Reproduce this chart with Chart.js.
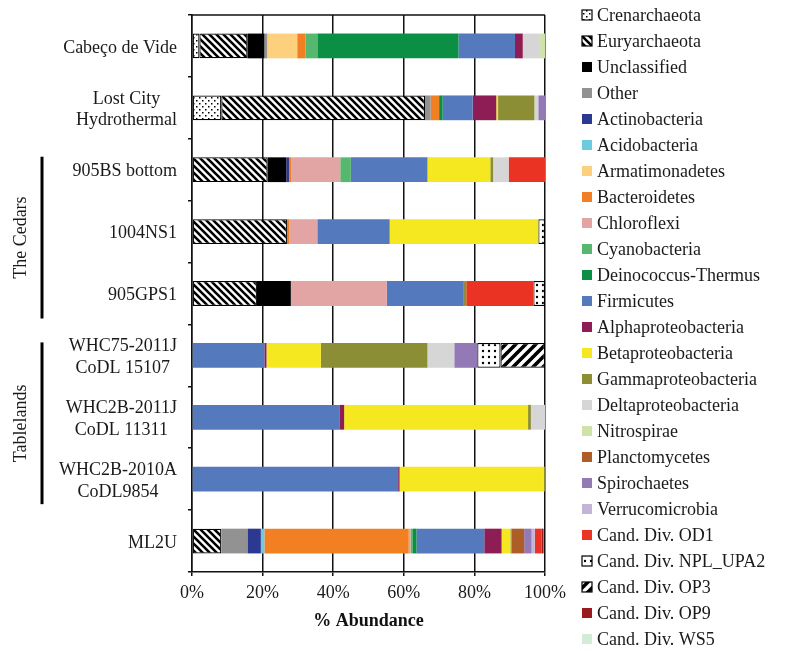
<!DOCTYPE html>
<html>
<head>
<meta charset="utf-8">
<script src="https://cdn.jsdelivr.net/npm/chart.js@4.4.1/dist/chart.umd.min.js"></script>
<style>
    html, body { margin: 0; padding: 0; background: #fff; }
    #wrap { width: 794px; height: 651px; }
</style>
</head>
<body>
<div id="wrap"><canvas id="abundanceChart" width="794" height="651"></canvas></div>
<script>
// Samples (top to bottom), multi-line labels as arrays
const samples = [
    ['Cabeço de Vide'],
    ['Lost City', 'Hydrothermal'],
    ['905BS bottom'],
    ['1004NS1'],
    ['905GPS1'],
    ['WHC75-2011J', 'CoDL 15107'],
    ['WHC2B-2011J', 'CoDL 11311'],
    ['WHC2B-2010A', 'CoDL9854'],
    ['ML2U']
];
const groups = [
    { label: 'The Cedars', from: 2, to: 4 },
    { label: 'Tablelands', from: 5, to: 7 }
];
const xTicks = [0, 20, 40, 60, 80, 100];

// % abundance per phylum, one value per sample (same order as samples)
const crenarchaeota   = [2.1, 8.3, 0, 0, 0, 0, 0, 0, 0];
const euryarchaeota   = [13.6, 57.7, 21.4, 26.9, 18.4, 0, 0, 0, 8.3];
const unclassified    = [4.8, 0, 5.3, 0, 9.6, 0, 0, 0, 0];
const other           = [0.8, 1.6, 0, 0, 0, 0, 0, 0, 7.4];
const actinobacteria  = [0, 0, 0.8, 0, 0, 0, 0, 0, 3.8];
const acidobacteria   = [0, 0, 0, 0, 0, 0, 0, 0, 1.0];
const armatimonadetes = [8.5, 0, 0, 0, 0, 0, 0, 0, 0];
const bacteroidetes   = [2.4, 2.4, 0.6, 0.7, 0, 0, 0, 0, 40.9];
const chloroflexi     = [0, 0, 13.9, 7.9, 27.2, 0, 0, 0, 0.5];
const cyanobacteria   = [3.3, 0, 3.0, 0, 0, 0, 0, 0, 0.7];
const deinococcus     = [40.0, 1.0, 0, 0, 0, 0, 0, 0, 1.0];
const firmicutes      = [16.0, 8.5, 21.7, 20.5, 21.8, 20.5, 41.9, 58.4, 19.2];
const alphaproteo     = [2.2, 6.7, 0, 0, 0, 0.6, 1.2, 0.4, 4.9];
const betaproteo      = [0, 0.5, 17.8, 42.1, 0, 15.4, 52.1, 40.9, 2.5];
const gammaproteo     = [0, 10.3, 0.8, 0, 0.7, 30.2, 0.8, 0.3, 0.3];
const deltaproteo     = [4.9, 1.1, 4.4, 0, 0, 7.6, 4.0, 0, 0];
const nitrospirae     = [1.4, 0, 0, 0, 0, 0, 0, 0, 0];
const planctomycetes  = [0, 0, 0, 0, 0, 0, 0, 0, 3.6];
const spirochaetes    = [0, 1.9, 0, 0, 0, 6.5, 0, 0, 2.1];
const verrucomicrobia = [0, 0, 0, 0, 0, 0, 0, 0, 0.9];
const candOD1         = [0, 0, 10.3, 0, 19.0, 0, 0, 0, 1.9];
const candNPL         = [0, 0, 0, 1.9, 3.3, 6.6, 0, 0, 0];
const candOP3         = [0, 0, 0, 0, 0, 12.6, 0, 0, 0];
const candOP9         = [0, 0, 0, 0, 0, 0, 0, 0, 0.6];
const candWS5         = [0, 0, 0, 0, 0, 0, 0, 0, 0];

const serif = "'Liberation Serif', 'Times New Roman', serif";

// hatch / dot fills for the archaea and a few candidate divisions
function makePattern(kind) {
    const c = document.createElement('canvas');
    const size = kind === 'op3' ? 10 : (kind === 'eury' ? 7 : 6);
    c.width = size; c.height = size;
    const g = c.getContext('2d');
    g.fillStyle = '#fff';
    g.fillRect(0, 0, size, size);
    g.fillStyle = '#000';
    g.strokeStyle = '#000';
    if (kind === 'dots') {
        g.fillRect(1, 1, 1.5, 1.5);
        g.fillRect(4, 4, 1.5, 1.5);
    } else if (kind === 'bigdots') {
        g.beginPath();
        g.arc(3, 3, 1.2, 0, Math.PI * 2);
        g.fill();
    } else if (kind === 'eury') {
        g.lineWidth = 2.6;
        g.beginPath();
        [-size, 0, size].forEach(k => { g.moveTo(k - 1, -1); g.lineTo(k + size + 1, size + 1); });
        g.stroke();
    } else if (kind === 'op3') {
        g.lineWidth = 3.6;
        g.beginPath();
        [-size, 0, size].forEach(k => { g.moveTo(k - 1, size + 1); g.lineTo(k + size + 1, -1); });
        g.stroke();
    }
    return g.createPattern(c, 'repeat');
}

const ctx = document.getElementById('abundanceChart').getContext('2d');

const phyla = [
    ['Crenarchaeota', crenarchaeota, makePattern('dots'), true],
    ['Euryarchaeota', euryarchaeota, makePattern('eury'), true],
    ['Unclassified', unclassified, '#000000', false],
    ['Other', other, '#929292', false],
    ['Actinobacteria', actinobacteria, '#2b3990', false],
    ['Acidobacteria', acidobacteria, '#6dcbe0', false],
    ['Armatimonadetes', armatimonadetes, '#fdd07e', false],
    ['Bacteroidetes', bacteroidetes, '#f28023', false],
    ['Chloroflexi', chloroflexi, '#e2a5a4', false],
    ['Cyanobacteria', cyanobacteria, '#55b86e', false],
    ['Deinococcus-Thermus', deinococcus, '#0b8f44', false],
    ['Firmicutes', firmicutes, '#5479bd', false],
    ['Alphaproteobacteria', alphaproteo, '#8f1d55', false],
    ['Betaproteobacteria', betaproteo, '#f6e820', false],
    ['Gammaproteobacteria', gammaproteo, '#8c8e36', false],
    ['Deltaproteobacteria', deltaproteo, '#d6d6d6', false],
    ['Nitrospirae', nitrospirae, '#cfe2aa', false],
    ['Planctomycetes', planctomycetes, '#ad5e27', false],
    ['Spirochaetes', spirochaetes, '#9379b5', false],
    ['Verrucomicrobia', verrucomicrobia, '#c4b5d8', false],
    ['Cand. Div. OD1', candOD1, '#eb3324', false],
    ['Cand. Div. NPL_UPA2', candNPL, makePattern('bigdots'), true],
    ['Cand. Div. OP3', candOP3, makePattern('op3'), true],
    ['Cand. Div. OP9', candOP9, '#9a1b1e', false],
    ['Cand. Div. WS5', candWS5, '#d4ecd7', false]
];

const datasets = phyla.map(p => ({
    label: p[0],
    data: p[1],
    backgroundColor: p[2],
    borderColor: '#000',
    borderWidth: p[3] ? 1.2 : 0,
    borderSkipped: false,
    patterned: p[3],
    barPercentage: 0.4,
    categoryPercentage: 1
}));

// draws top border, sample labels, group brackets and the legend
const extrasPlugin = {
    id: 'extras',
    afterDraw(chart) {
        const c = chart.ctx;
        const area = chart.chartArea;
        const yScale = chart.scales.y;
        c.save();
        c.strokeStyle = '#111';
        c.lineWidth = 1.5;
        c.beginPath();
        c.moveTo(area.left, area.top);
        c.lineTo(area.right, area.top);
        c.stroke();

        // sample labels: block right aligned, lines centered inside the block
        c.font = '18px ' + serif;
        c.fillStyle = '#1a1a1a';
        c.textBaseline = 'middle';
        c.textAlign = 'center';
        samples.forEach((lines, i) => {
            const y = yScale.getPixelForValue(i) + 2;
            const w = Math.max(...lines.map(l => c.measureText(l).width));
            const cx = area.left - 15 - w / 2;
            lines.forEach((l, j) => c.fillText(l, cx, y + (j - (lines.length - 1) / 2) * 21.6));
        });

        // group brackets
        groups.forEach(gr => {
            const top = yScale.getPixelForValue(gr.from) - 13;
            const bottom = yScale.getPixelForValue(gr.to) + 25;
            c.lineWidth = 3;
            c.strokeStyle = '#000';
            c.beginPath();
            c.moveTo(42, top);
            c.lineTo(42, bottom);
            c.stroke();
            c.save();
            c.translate(21, (top + bottom) / 2);
            c.rotate(-Math.PI / 2);
            c.fillText(gr.label, 0, 0);
            c.restore();
        });

        // legend
        c.textAlign = 'left';
        chart.data.datasets.forEach((ds, i) => {
            const yc = 15 + i * 26;
            c.fillStyle = ds.backgroundColor;
            c.fillRect(582, yc - 5, 10, 10);
            if (ds.patterned) {
                c.lineWidth = 1.2;
                c.strokeStyle = '#000';
                c.strokeRect(582, yc - 5, 10, 10);
            }
            c.fillStyle = '#1a1a1a';
            c.fillText(ds.label, 597, yc + 1);
        });
        c.restore();
    }
};

new Chart(ctx, {
    type: 'bar',
    data: {
        labels: samples.map(s => s.join(' ')),
        datasets: datasets
    },
    options: {
        responsive: false,
        animation: false,
        indexAxis: 'y',
        layout: {
            padding: { top: 15, right: 249, left: 0, bottom: 0 }
        },
        plugins: {
            legend: { display: false },
            tooltip: { enabled: false }
        },
        scales: {
            x: {
                stacked: true,
                min: 0,
                max: 100,
                afterBuildTicks: function (scale) {
                    scale.ticks = xTicks.map(v => ({ value: v }));
                },
                afterFit: function (scale) {
                    scale.height = 79;
                },
                ticks: {
                    color: '#1a1a1a',
                    padding: 6,
                    font: { family: serif, size: 18 },
                    callback: function (value) {
                        return value + '%';
                    }
                },
                grid: {
                    color: '#111',
                    lineWidth: 1.5,
                    tickLength: 4
                },
                border: { display: true, color: '#111', width: 1.5 },
                title: {
                    display: true,
                    text: '% Abundance',
                    color: '#111',
                    padding: { top: 4, bottom: 19 },
                    font: { family: serif, size: 18, weight: 'bold' }
                }
            },
            y: {
                stacked: true,
                afterFit: function (scale) {
                    scale.width = 192;
                },
                ticks: { display: false },
                grid: {
                    drawOnChartArea: false,
                    color: '#111',
                    lineWidth: 1.5,
                    tickLength: 4
                },
                border: { display: true, color: '#111', width: 1.5 }
            }
        }
    },
    plugins: [extrasPlugin]
});
</script>
</body>
</html>
